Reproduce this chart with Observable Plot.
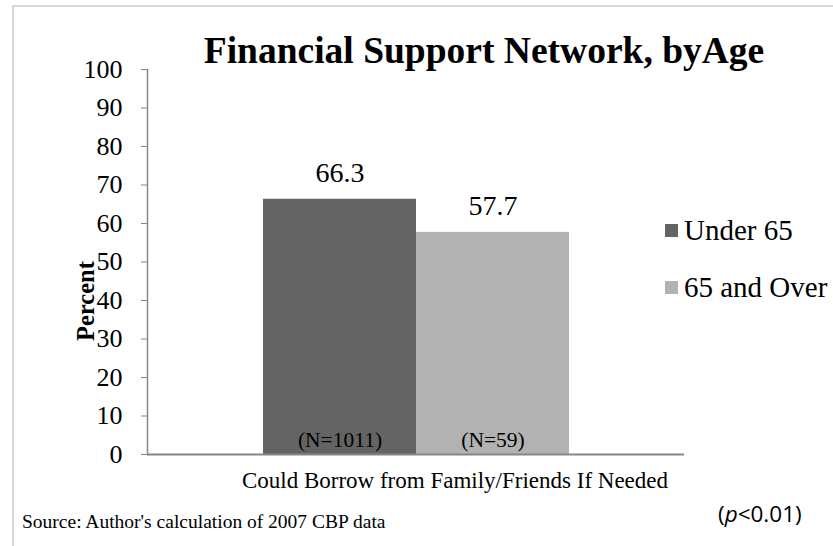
<!DOCTYPE html>
<html>
<head>
<meta charset="utf-8">
<script src="https://cdn.jsdelivr.net/npm/d3@7"></script>
<script src="https://cdn.jsdelivr.net/npm/@observablehq/plot@0.6"></script>
<style>
  html, body { margin: 0; padding: 0; background: #fff; }
  #wrap { position: relative; width: 833px; height: 546px; overflow: hidden; font-family: "Liberation Serif", serif; }
  #frame { position: absolute; left: 12px; top: 5px; right: -10px; bottom: -10px; border-top: 2px solid #d9d9d9; border-left: 2px solid #d9d9d9; }
  #chart { position: absolute; left: 0; top: 0; }
  .abs { position: absolute; white-space: nowrap; color: #000; }
  #title { left: 0; width: 968px; top: 30px; text-align: center; font-weight: bold; font-size: 37.5px; line-height: 42px; }
  #ylabel { left: 86px; top: 301px; transform: translate(-50%, -50%) rotate(-90deg); font-weight: bold; font-size: 24.5px; }
  #cat { left: 455px; transform: translateX(-50%); top: 467px; font-size: 23px; line-height: 28px; }
  #source { left: 22px; top: 510px; font-size: 19.5px; line-height: 24px; }
  #pval { left: 718px; top: 499px; font-family: "Open Sans", "Liberation Sans", sans-serif; font-size: 22.5px; line-height: 30px; }
  .leg { left: 665px; font-size: 29px; line-height: 32px; display: flex; align-items: center; }
  .sw { width: 13px; height: 13px; margin-right: 6px; display: inline-block; }
  svg g[aria-label="y-axis tick"] path { stroke: #868686; }
</style>
</head>
<body>
<div id="wrap">
  <div id="frame"></div>
  <div id="chart"></div>
  <div id="title" class="abs"></div>
  <div id="ylabel" class="abs"></div>
  <div id="cat" class="abs"></div>
  <div id="source" class="abs"></div>
  <div id="pval" class="abs"></div>
  <div id="legend"></div>
</div>
<script>
const titleText = "Financial Support Network, byAge";
const yLabel = "Percent";
const category = "Could Borrow from Family/Friends If Needed";
const series = ["Under 65", "65 and Over"];
const values = [66.3, 57.7];
const nLabels = ["(N=1011)", "(N=59)"];
const yTicks = [0, 10, 20, 30, 40, 50, 60, 70, 80, 90, 100];
const colors = ["#646464", "#b2b2b2"];
const sourceText = "Source: Author's calculation of 2007 CBP data";

const data = series.map((s, i) => ({series: s, value: values[i], n: nLabels[i]}));

const plot = Plot.plot({
  width: 833,
  height: 546,
  marginLeft: 147,
  marginRight: 149,
  marginTop: 69,
  marginBottom: 92,
  style: {fontFamily: "'Liberation Serif', serif", background: "transparent", color: "#000"},
  x: {domain: series, paddingInner: 0, paddingOuter: 0.75, axis: null},
  y: {domain: [0, 100], axis: null},
  color: {domain: series, range: colors},
  marks: [
    Plot.barY(data, {x: "series", y: "value", fill: "series"}),
    Plot.axisY({ticks: yTicks, label: null, tickSize: 6, tickPadding: 19, fontSize: 26, color: "#000"}),
    Plot.frame({anchor: "left", stroke: "#868686", strokeWidth: 1.5}),
    Plot.ruleY([0], {stroke: "#868686", strokeWidth: 2}),
    Plot.text(data, {x: "series", y: "value", text: d => d.value.toFixed(1), dy: -26, fontSize: 28, fill: "#000"}),
    Plot.text(data, {x: "series", y: () => 0, text: "n", dy: -14, fontSize: 21.5, fill: "#000"})
  ]
});
document.getElementById("chart").appendChild(plot);

document.getElementById("title").textContent = titleText;
document.getElementById("ylabel").textContent = yLabel;
document.getElementById("cat").textContent = category;
document.getElementById("source").textContent = sourceText;
document.getElementById("pval").innerHTML = "(<i>p</i>&lt;0.01)";

const legend = document.getElementById("legend");
const legTops = [214, 271];
series.forEach((s, i) => {
  const row = document.createElement("div");
  row.className = "abs leg";
  row.style.top = legTops[i] + "px";
  const sw = document.createElement("span");
  sw.className = "sw";
  sw.style.background = colors[i];
  row.appendChild(sw);
  row.appendChild(document.createTextNode(s));
  legend.appendChild(row);
});
</script>
</body>
</html>
